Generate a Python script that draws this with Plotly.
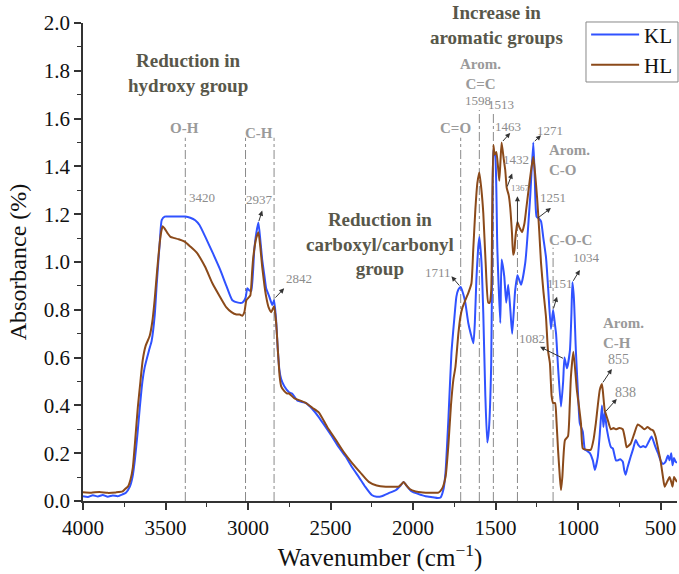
import plotly.graph_objects as go

# FTIR absorbance spectra (wavenumber in cm-1, absorbance)
kl_wavenumber = [
    4000, 3970, 3940, 3910, 3880, 3850, 3820, 3790, 3760, 3740, 3716, 3700, 3686, 3670,
    3656, 3640, 3626, 3600, 3584, 3565, 3553, 3535, 3523, 3505, 3480, 3420, 3380, 3350,
    3320, 3294, 3255, 3215, 3170, 3131, 3095, 3060, 3034, 3015, 3004, 2990, 2980, 2962,
    2950, 2937, 2925, 2914, 2900, 2890, 2871, 2853, 2842, 2830, 2820, 2810, 2799, 2780,
    2751, 2733, 2700, 2648, 2610, 2570, 2530, 2491, 2450, 2407, 2368, 2328, 2290, 2250,
    2220, 2190, 2140, 2105, 2075, 2057, 2035, 2008, 1970, 1924, 1880, 1850, 1833, 1815,
    1803, 1785, 1767, 1750, 1737, 1725, 1711, 1695, 1683, 1665, 1650, 1634, 1625, 1616,
    1605, 1598, 1585, 1574, 1562, 1550, 1540, 1526, 1518, 1513, 1501, 1489, 1471, 1463,
    1447, 1435, 1423, 1410, 1399, 1381, 1367, 1345, 1320, 1290, 1271, 1262, 1251, 1235,
    1224, 1210, 1194, 1180, 1164, 1151, 1140, 1133, 1120, 1103, 1090, 1082, 1067, 1049,
    1040, 1034, 1025, 1013, 1000, 989, 971, 958, 945, 928, 910, 898, 880, 868, 855, 846,
    838, 825, 800, 789, 770, 759, 745, 729, 720, 711, 700, 681, 665, 650, 635, 620, 605,
    590, 570, 554, 540, 530, 515, 500, 485, 469, 455, 445, 435, 427, 418, 409, 400,
]
kl_absorbance = [
    0.020, 0.017, 0.024, 0.019, 0.025, 0.018, 0.023, 0.020, 0.028, 0.035, 0.06, 0.10, 0.17, 0.28,
    0.39, 0.50, 0.56, 0.63, 0.67, 0.78, 0.91, 1.08, 1.175, 1.19, 1.19, 1.19, 1.19, 1.185,
    1.175, 1.155, 1.10, 1.04, 0.97, 0.90, 0.84, 0.83, 0.83, 0.85, 0.89, 0.88, 0.88, 1.05,
    1.12, 1.165, 1.09, 1.01, 0.94, 0.89, 0.855, 0.82, 0.84, 0.76, 0.64, 0.55, 0.51, 0.48,
    0.455, 0.45, 0.42, 0.41, 0.385, 0.35, 0.31, 0.27, 0.225, 0.185, 0.14, 0.10, 0.06, 0.025,
    0.018, 0.02, 0.035, 0.045, 0.065, 0.08, 0.06, 0.04, 0.03, 0.02, 0.016, 0.013, 0.015, 0.05,
    0.12, 0.35, 0.62, 0.76, 0.855, 0.885, 0.895, 0.865, 0.83, 0.745, 0.70, 0.66, 0.75, 0.925,
    1.06, 1.105, 1.00, 0.785, 0.45, 0.245, 0.30, 0.575, 1.20, 1.47, 1.44, 1.06, 0.745, 1.01,
    0.94, 0.83, 0.905, 0.80, 0.70, 0.88, 0.945, 0.905, 0.995, 1.27, 1.50, 1.35, 1.19, 1.18,
    1.17, 1.10, 1.02, 0.88, 0.72, 0.80, 0.74, 0.70, 0.55, 0.395, 0.50, 0.60, 0.555, 0.63,
    0.78, 0.915, 0.85, 0.63, 0.45, 0.325, 0.29, 0.215, 0.21, 0.20, 0.17, 0.13, 0.185, 0.28, 0.40, 0.31,
    0.37, 0.30, 0.225, 0.22, 0.17, 0.17, 0.175, 0.165, 0.13, 0.11, 0.14, 0.185, 0.22, 0.255, 0.235, 0.225, 0.23,
    0.225, 0.25, 0.27, 0.245, 0.225, 0.20, 0.17, 0.155, 0.165, 0.19, 0.17, 0.20, 0.15, 0.18, 0.165, 0.16,
]

hl_wavenumber = [
    4000, 3950, 3900, 3850, 3800, 3760, 3745, 3728, 3712, 3698, 3683, 3668, 3652, 3638,
    3620, 3596, 3580, 3566, 3550, 3535, 3525, 3517, 3505, 3487, 3470, 3445, 3420, 3384,
    3350, 3312, 3260, 3215, 3170, 3131, 3100, 3070, 3050, 3034, 3022, 3010, 2998, 2986,
    2975, 2968, 2950, 2937, 2925, 2914, 2900, 2890, 2875, 2859, 2842, 2830, 2818, 2808,
    2799, 2780, 2763, 2751, 2720, 2703, 2648, 2610, 2570, 2520, 2467, 2420, 2370, 2320,
    2268, 2220, 2165, 2120, 2087, 2070, 2057, 2040, 2020, 1984, 1940, 1890, 1846, 1825,
    1803, 1785, 1770, 1755, 1743, 1725, 1713, 1700, 1683, 1665, 1646, 1635, 1622, 1610,
    1598, 1585, 1574, 1560, 1544, 1535, 1526, 1520, 1513, 1505, 1495, 1485, 1477, 1470,
    1463, 1450, 1441, 1432, 1420, 1411, 1400, 1393, 1385, 1381, 1375, 1367, 1355, 1339,
    1325, 1314, 1300, 1284, 1271, 1260, 1248, 1235, 1224, 1210, 1194, 1182, 1170, 1160,
    1151, 1139, 1130, 1121, 1110, 1103, 1095, 1079, 1061, 1050, 1043, 1028, 1007, 995,
    982, 971, 952, 922, 905, 892, 868, 855, 848, 838, 820, 801, 785, 771, 750, 729,
    715, 705, 681, 660, 638, 615, 596, 578, 560, 545, 530, 515, 500, 485, 475, 460,
    445, 435, 427, 418, 409, 400,
]
hl_absorbance = [
    0.037, 0.035, 0.038, 0.034, 0.036, 0.040, 0.05, 0.06, 0.09, 0.14, 0.26, 0.39, 0.50, 0.59,
    0.65, 0.69, 0.75, 0.84, 0.97, 1.08, 1.13, 1.15, 1.14, 1.12, 1.105, 1.10, 1.095, 1.085,
    1.065, 1.04, 0.98, 0.91, 0.855, 0.81, 0.79, 0.78, 0.78, 0.775, 0.79, 0.84, 0.85, 0.86,
    0.96, 1.02, 1.10, 1.125, 1.06, 0.98, 0.90, 0.855, 0.81, 0.79, 0.815, 0.75, 0.62, 0.52,
    0.48, 0.46, 0.45, 0.45, 0.43, 0.425, 0.41, 0.39, 0.37, 0.31, 0.255, 0.205, 0.16, 0.12,
    0.08, 0.065, 0.06, 0.06, 0.06, 0.07, 0.08, 0.065, 0.05, 0.04, 0.036, 0.035, 0.035, 0.05,
    0.10, 0.24, 0.40, 0.51, 0.56, 0.70, 0.77, 0.81, 0.84, 0.87, 0.91, 1.05, 1.22, 1.33,
    1.375, 1.30, 1.205, 1.00, 0.83, 0.83, 0.88, 1.20, 1.49, 1.45, 1.46, 1.40, 1.34, 1.42,
    1.50, 1.43, 1.385, 1.31, 1.28, 1.23, 1.12, 1.03, 1.05, 1.09, 1.13, 1.167, 1.145, 1.125,
    1.16, 1.22, 1.30, 1.385, 1.44, 1.37, 1.27, 1.13, 0.995, 0.88, 0.77, 0.63, 0.575, 0.44,
    0.41, 0.41, 0.33, 0.215, 0.10, 0.045, 0.10, 0.255, 0.27, 0.40, 0.52, 0.625, 0.465, 0.40,
    0.325, 0.22, 0.215, 0.215, 0.26, 0.325, 0.465, 0.49, 0.45, 0.38, 0.34, 0.30, 0.305, 0.30, 0.305, 0.30,
    0.26, 0.225, 0.24, 0.28, 0.32, 0.31, 0.30, 0.31, 0.30, 0.295, 0.27, 0.22, 0.17, 0.10, 0.06, 0.08,
    0.10, 0.08, 0.06, 0.10, 0.09, 0.08,
]

series_names = ["KL", "HL"]
x_tick_values = [4000, 3500, 3000, 2500, 2000, 1500, 1000, 500]

# Band marker lines: (wavenumber, top absorbance)
band_lines = [(3380, 1.52), (3015, 1.52), (2842, 1.52), (1711, 1.52),
              (1598, 1.636), (1513, 1.62), (1367, 1.15), (1151, 1.06)]

# Peak labels: (label, text x, text y, arrow tip x, arrow tip y, arrow base y, font size)
peak_labels = [
    ("2937", 2930, 1.26, 2914, 1.215, 1.165, 13),
    ("2842", 2690, 0.93, 2781, 0.89, 0.845, 13),
    ("1711", 1851, 0.958, 1767, 0.94, 0.895, 13),
    ("1463", 1423, 1.565, 1411, 1.54, 1.50, 13),
    ("1271", 1170, 1.552, 1224, 1.53, 1.50, 13),
    ("1432", 1375, 1.427, 1399, 1.37, 1.31, 13),
    ("1367", 1350, 1.31, 1367, 1.275, 1.15, 9),
    ("1251", 1151, 1.268, 1164, 1.226, 1.18, 13),
    ("1034", 946, 1.017, 989, 0.967, 0.915, 13),
    ("1151", 1109, 0.91, 1127, 0.855, 0.80, 13),
    ("1082", 1278, 0.68, 1230, 0.645, 0.594, 13),
    ("855", 753, 0.59, 795, 0.552, 0.49, 14),
    ("838", 711, 0.452, 765, 0.427, 0.37, 14),
]

# Plain labels without arrows
plain_labels = [("3420", 3276, 1.27), ("1598", 1604, 1.675), ("1513", 1465, 1.66)]

# Functional-group labels: (text, x, y, xanchor)
group_labels = [
    ("<b>O-H</b>", 3384, 1.56, "center"),
    ("<b>C-H</b>", 2935, 1.54, "center"),
    ("<b>C=O</b>", 1743, 1.56, "center"),
    ("<b>Arom.</b><br><b>C=C</b>", 1592, 1.787, "center"),
    ("<b>Arom.</b><br><b>C-O</b>", 1188, 1.427, "left"),
    ("<b>C-O-C</b>", 1043, 1.09, "center"),
    ("<b>Arom.</b><br><b>C-H</b>", 862, 0.703, "left"),
]

# Headline comments
headings = [
    ("<b>Reduction in</b><br><b>hydroxy group</b>", 3366, 1.79),
    ("<b>Increase in</b><br><b>aromatic groups</b>", 1495, 1.99),
    ("<b>Reduction in</b><br><b>carboxyl/carbonyl</b><br><b>group</b>", 2202, 1.075),
]

FONT = "Liberation Serif"
colors = ["#3052ff", "#8b4a1a"]

fig = go.Figure()
for name, xs, ys, col in zip(series_names, [kl_wavenumber, hl_wavenumber],
                             [kl_absorbance, hl_absorbance], colors):
    fig.add_trace(go.Scatter(x=xs, y=ys, name=name, mode="lines",
                             line=dict(color=col, width=2, shape="spline", smoothing=0.5)))

shapes = []
for wn, top in band_lines:
    shapes.append(dict(type="line", xref="x", yref="y", x0=wn, x1=wn, y0=0, y1=top,
                       line=dict(color="#8a8a8a", width=1, dash="dashdot"), layer="below"))

# Legend frame
shapes.append(dict(type="rect", xref="paper", yref="paper",
                   x0=0.8468, x1=1.0017, y0=0.8766, y1=1.0021,
                   line=dict(color="#888888", width=1), fillcolor="white", layer="above"))

annotations = []
for text, tx, ty, hx, hy, by, fs in peak_labels:
    wn = int(text)
    annotations.append(dict(x=tx, y=ty, text=text, showarrow=False, xref="x", yref="y",
                            font=dict(family=FONT, size=fs, color="#8c8c8c")))
    annotations.append(dict(x=hx, y=hy, ax=wn, ay=by, axref="x", ayref="y", xref="x", yref="y",
                            text="", showarrow=True, arrowhead=2, arrowsize=1,
                            arrowwidth=1, arrowcolor="#333333", standoff=0, startstandoff=0))
for text, tx, ty in plain_labels:
    annotations.append(dict(x=tx, y=ty, text=text, showarrow=False, xref="x", yref="y",
                            font=dict(family=FONT, size=13, color="#8c8c8c")))
for text, tx, ty, xa in group_labels:
    annotations.append(dict(x=tx, y=ty, text=text, showarrow=False, xref="x", yref="y",
                            xanchor=xa, align="left" if xa == "left" else "center",
                            font=dict(family=FONT, size=15, color="#9a9a9a")))
for text, tx, ty in headings:
    annotations.append(dict(x=tx, y=ty, text=text, showarrow=False, xref="x", yref="y",
                            align="center",
                            font=dict(family=FONT, size=19, color="#58574a")))

fig.update_layout(
    width=679, height=574,
    margin=dict(l=83, r=2, t=23, b=73),
    paper_bgcolor="white", plot_bgcolor="white",
    font=dict(family=FONT, color="#111111"),
    shapes=shapes, annotations=annotations,
    legend=dict(x=0.847, y=1.018, xanchor="left", yanchor="top",
                bgcolor="rgba(0,0,0,0)", borderwidth=0,
                font=dict(family=FONT, size=21, color="#111111"),
                tracegroupgap=0, itemwidth=48),
    xaxis=dict(range=[4000, 400], tickvals=x_tick_values, showgrid=False, zeroline=False,
               showline=True, linecolor="#333333", linewidth=1.5,
               ticks="outside", ticklen=7, tickwidth=1.5, tickcolor="#333333",
               minor=dict(dtick=250, ticks="outside", ticklen=4, tickwidth=1.2, tickcolor="#333333"),
               tickfont=dict(family=FONT, size=21, color="#111111"),
               title=dict(text="Wavenumber (cm<sup>−1</sup>)", standoff=1,
                          font=dict(family=FONT, size=25, color="#111111"))),
    yaxis=dict(range=[0, 2.0], dtick=0.2, tick0=0, tickformat=".1f", showgrid=False,
               zeroline=False, showline=True, linecolor="#333333", linewidth=1.5,
               ticks="outside", ticklen=7, tickwidth=1.5, tickcolor="#333333",
               minor=dict(dtick=0.1, ticks="outside", ticklen=4, tickwidth=1.2, tickcolor="#333333"),
               tickfont=dict(family=FONT, size=21, color="#111111"),
               title=dict(text="Absorbance (%)", standoff=10,
                          font=dict(family=FONT, size=24, color="#111111"))),
)

fig.write_html("out.html")
